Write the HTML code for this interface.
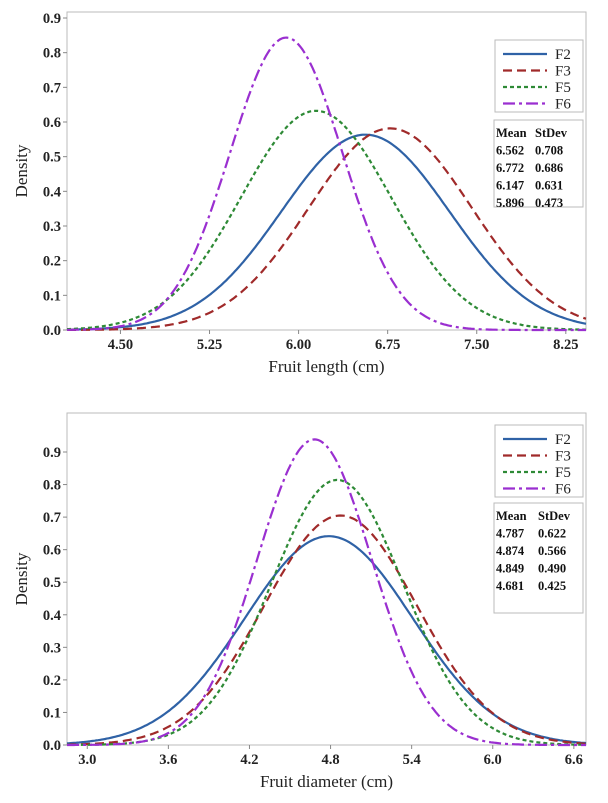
<!DOCTYPE html>
<html><head><meta charset="utf-8"><style>
body{margin:0;background:#fff;width:608px;height:798px;overflow:hidden}
svg{font-family:"Liberation Serif",serif}
</style></head><body>
<svg id="s" width="608" height="798"></svg>
<script>
const seriesNames=["F2","F3","F5","F6"];
const lengthMeans=[6.562,6.772,6.147,5.896];
const lengthSds=[0.708,0.686,0.631,0.473];
const diamMeans=[4.787,4.874,4.849,4.681];
const diamSds=[0.622,0.566,0.490,0.425];
const lengthXTicks=[4.50,5.25,6.00,6.75,7.50,8.25];
const diamXTicks=[3.0,3.6,4.2,4.8,5.4,6.0,6.6];
const yTicks=[0,0.1,0.2,0.3,0.4,0.5,0.6,0.7,0.8,0.9];
const colors=["#2f62a6","#a02a2a","#2e8a36","#9a2fd0"];
const dashes=["","9,5","4,3","12,4,3,4"];
const NS="http://www.w3.org/2000/svg";
const svg=document.getElementById('s');
function el(t,a,p){const e=document.createElementNS(NS,t);for(const k in a)e.setAttribute(k,a[k]);(p||svg).appendChild(e);return e;}
function chart(cfg){
  const g=el('g',{});
  
  
  const X=v=>cfg.px0+(v-cfg.x0)/(cfg.x1-cfg.x0)*(cfg.px1-cfg.px0);
  const Y=v=>cfg.py0-v/0.9*(cfg.py0-cfg.py9);
  const fr=el('rect',{x:cfg.px0,y:cfg.top,width:cfg.px1-cfg.px0,height:cfg.py0-cfg.top,fill:'none',stroke:'#bbb','stroke-width':1},g);
  
  yTicks.forEach(t=>{
    el('line',{x1:cfg.px0-4,x2:cfg.px0,y1:Y(t),y2:Y(t),stroke:'#888'},g);
    const tx=el('text',{x:cfg.px0-6,y:Y(t)+5,'text-anchor':'end','font-size':14.5,'font-weight':'bold',fill:'#222'},g);
    tx.textContent=t.toFixed(1);
    
  });
  cfg.xt.forEach(t=>{
    el('line',{x1:X(t),x2:X(t),y1:cfg.py0,y2:cfg.py0+4,stroke:'#888'},g);
    const tx=el('text',{x:X(t),y:cfg.py0+19,'text-anchor':'middle','font-size':14.5,'font-weight':'bold',fill:'#222'},g);
    tx.textContent=t.toFixed(cfg.dec);
    
  });
  const yl=el('text',{x:0,y:0,transform:`translate(27,${(cfg.top+cfg.py0)/2}) rotate(-90)`,'text-anchor':'middle','font-size':17,fill:'#222'},g);
  yl.textContent='Density';
  const xl=el('text',{x:(cfg.px0+cfg.px1)/2,y:cfg.py0+42,'text-anchor':'middle','font-size':17,fill:'#222'},g);
  xl.textContent=cfg.xlabel;
  cfg.m.forEach((mu,i)=>{
    const sd=cfg.s[i];let d='';
    for(let k=0;k<=300;k++){const v=cfg.x0+(cfg.x1-cfg.x0)*k/300;const y=Math.exp(-0.5*((v-mu)/sd)**2)/(sd*Math.sqrt(2*Math.PI));d+=(k?'L':'M')+X(v).toFixed(1)+','+Y(y).toFixed(1);}
    const p=el('path',{d:d,fill:'none',stroke:colors[i],'stroke-width':2.2,'stroke-dasharray':dashes[i]},g);
    
  });
  const L=cfg.leg;
  const lb=el('rect',{x:L.x,y:L.y,width:88,height:72,fill:'#fff',stroke:'#bbb'},g);
  
  seriesNames.forEach((n,i)=>{
    const yy=L.y+14+i*16.5;
    el('line',{x1:L.x+8,x2:L.x+52,y1:yy,y2:yy,stroke:colors[i],'stroke-width':2.2,'stroke-dasharray':dashes[i]},g);
    const t=el('text',{x:L.x+60,y:yy+5,'font-size':15,fill:'#222'},g);t.textContent=n;
    
  });
  const S=cfg.st;
  const sb=el('rect',{x:S.x,y:S.y,width:S.w,height:S.h,fill:'#fff',stroke:'#bbb'},g);
  
  const rows=[['Mean','StDev']].concat(cfg.m.map((mu,i)=>[mu.toFixed(3),cfg.s[i].toFixed(3)]));
  rows.forEach((r,j)=>{
    const a=el('text',{x:S.x+2,y:S.y+17+j*17.5,'font-size':12.5,'font-weight':'bold',fill:'#111'},g);a.textContent=r[0];
    const b=el('text',{x:S.x+S.c2,y:S.y+17+j*17.5,'font-size':12.5,'font-weight':'bold',fill:'#111'},g);b.textContent=r[1];
  });
}
chart({name:'fruit-length-chart',x0:4.05,x1:8.42,px0:67,px1:586,py0:330,py9:18,top:12,xt:lengthXTicks,dec:2,xlabel:'Fruit length (cm)',m:lengthMeans,s:lengthSds,leg:{x:495,y:40},st:{x:494,y:120,w:89,h:87,c2:41}});
chart({name:'fruit-diameter-chart',x0:2.85,x1:6.69,px0:67,px1:586,py0:745,py9:452,top:413,xt:diamXTicks,dec:1,xlabel:'Fruit diameter (cm)',m:diamMeans,s:diamSds,leg:{x:495,y:425},st:{x:494,y:503,w:89,h:110,c2:44}});
</script>
</body></html>
